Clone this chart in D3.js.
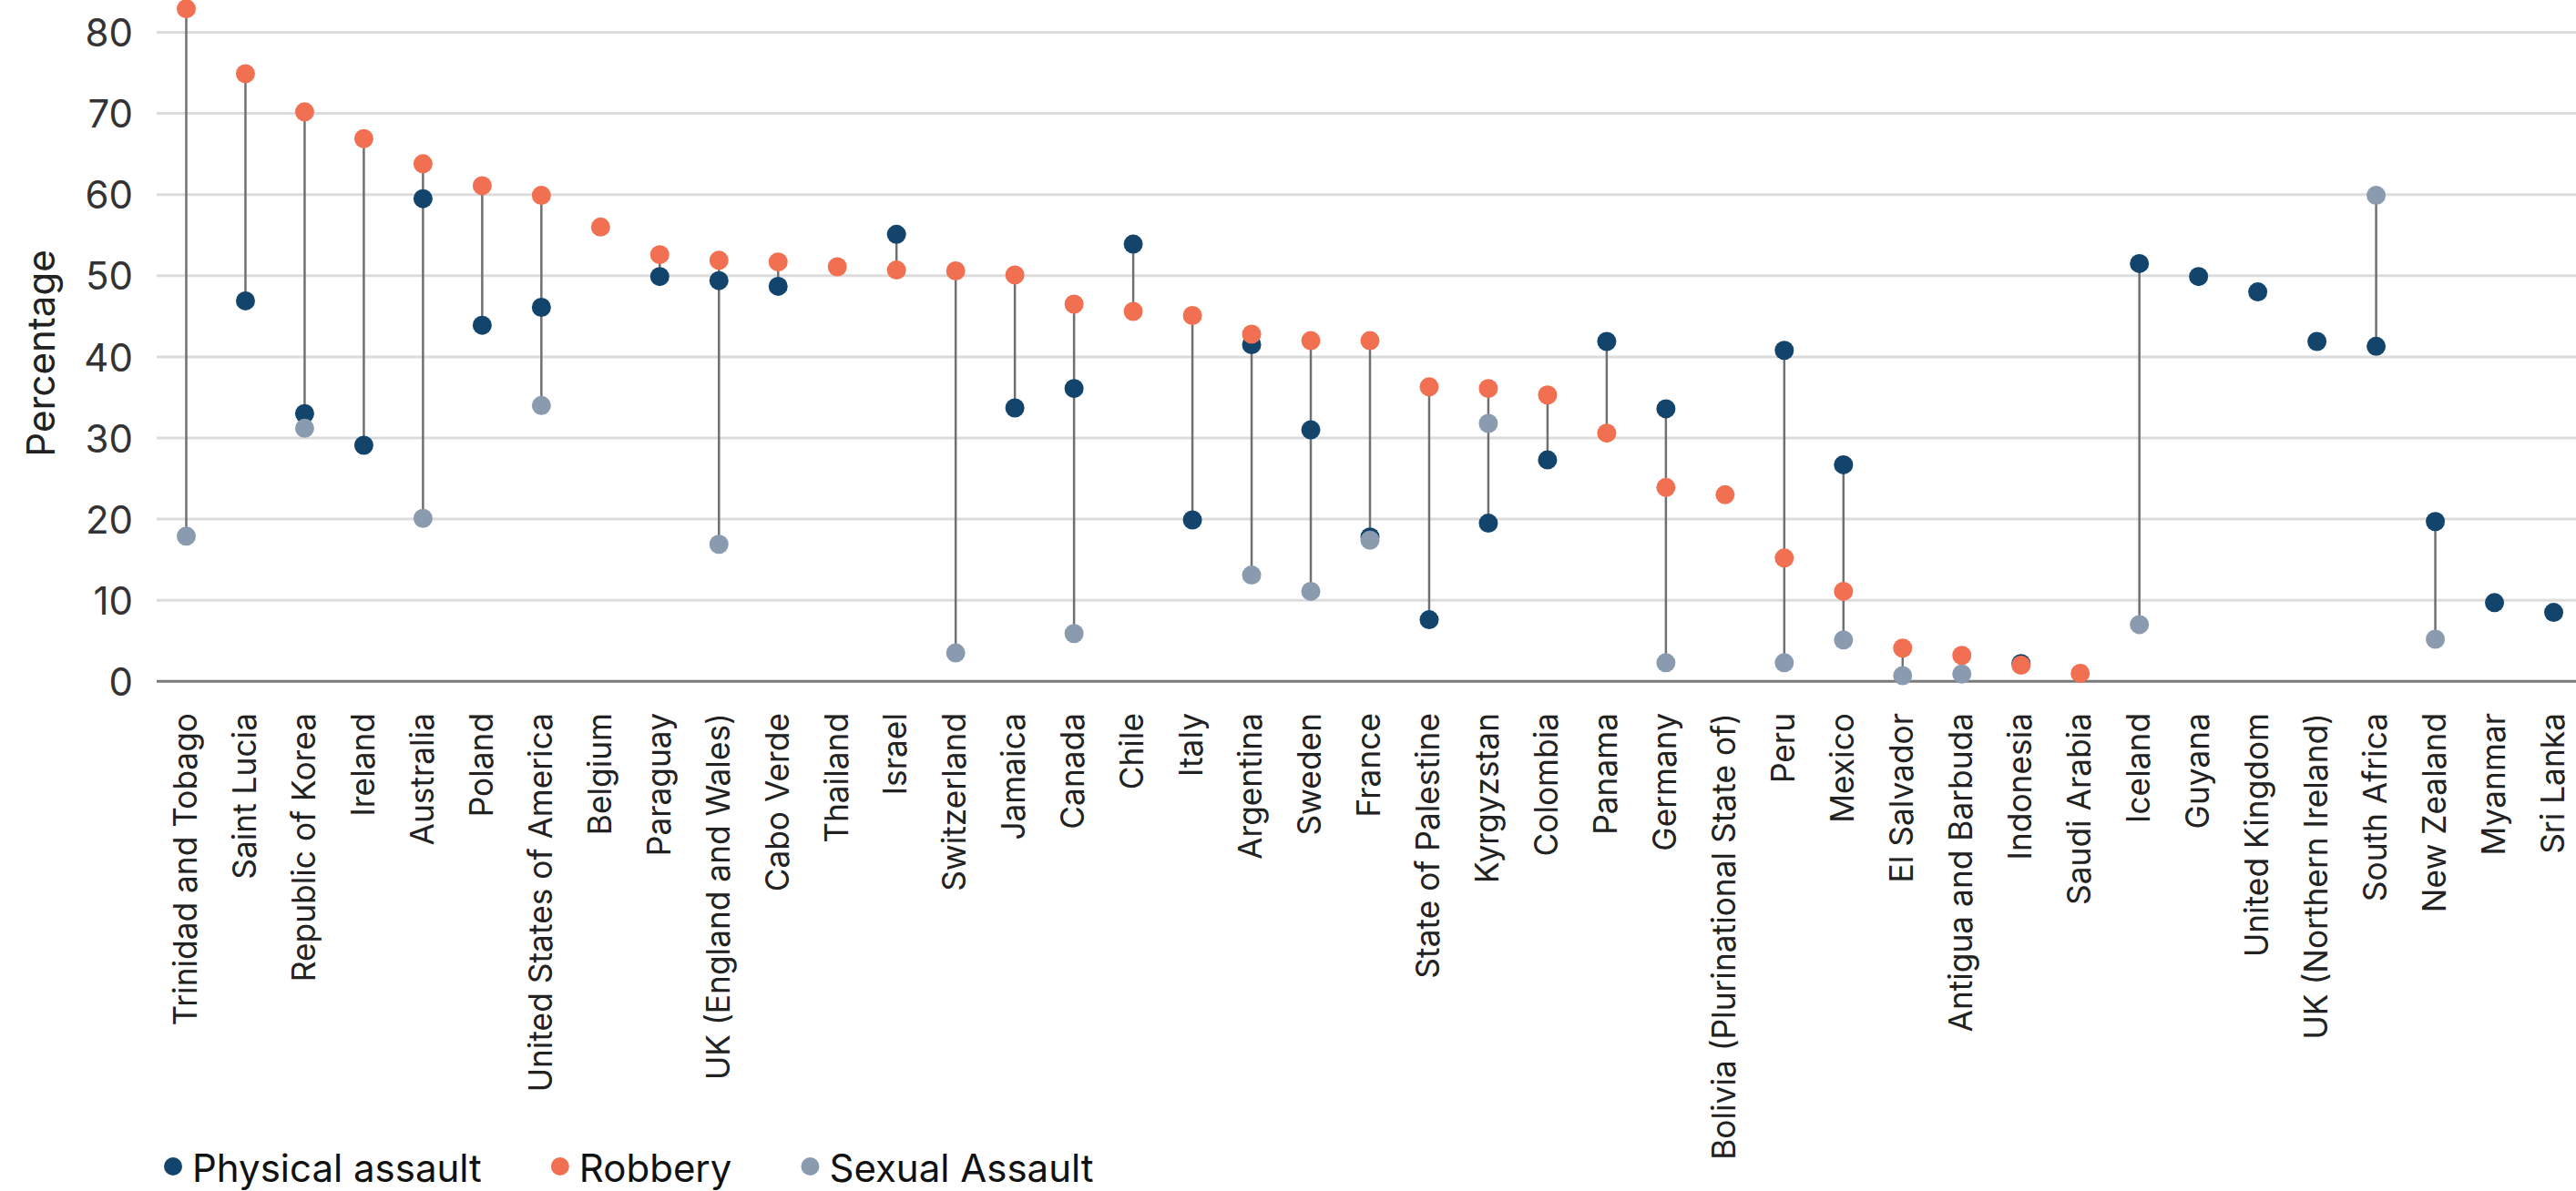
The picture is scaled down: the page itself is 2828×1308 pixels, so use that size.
<!DOCTYPE html>
<html>
<head>
<meta charset="utf-8">
<script src="https://cdn.jsdelivr.net/npm/d3@7"></script>
<style>
  html, body { margin: 0; padding: 0; background: #ffffff; }
  svg { display: block; }
  text { font-family: Inter, "Noto Sans", sans-serif; }
</style>
</head>
<body>
<svg id="chart" width="2828" height="1308"></svg>
<script>
const categories = [
  "Trinidad and Tobago", "Saint Lucia", "Republic of Korea", "Ireland", "Australia",
  "Poland", "United States of America", "Belgium", "Paraguay", "UK (England and Wales)",
  "Cabo Verde", "Thailand", "Israel", "Switzerland", "Jamaica", "Canada", "Chile", "Italy",
  "Argentina", "Sweden", "France", "State of Palestine", "Kyrgyzstan", "Colombia", "Panama",
  "Germany", "Bolivia (Plurinational State of)", "Peru", "Mexico", "El Salvador",
  "Antigua and Barbuda", "Indonesia", "Saudi Arabia", "Iceland", "Guyana", "United Kingdom",
  "UK (Northern Ireland)", "South Africa", "New Zealand", "Myanmar", "Sri Lanka"
];
const physicalAssault = [
  null, 46.9, 33.0, 29.1, 59.5, 43.9, 46.1, null, 49.9, 49.4,
  48.7, null, 55.1, null, 33.7, 36.1, 53.9, 19.9, 41.5, 31.0,
  17.8, 7.6, 19.5, 27.3, 41.9, 33.6, null, 40.8, 26.7, null,
  null, 2.2, null, 51.5, 49.9, 48.0, 41.9, 41.3, 19.7, 9.7, 8.5
];
const robbery = [
  82.9, 74.9, 70.2, 66.9, 63.8, 61.1, 59.9, 56.0, 52.6, 51.9,
  51.7, 51.1, 50.7, 50.6, 50.1, 46.5, 45.6, 45.1, 42.8, 42.0,
  42.0, 36.3, 36.1, 35.3, 30.6, 23.9, 23.0, 15.2, 11.1, 4.1,
  3.2, 2.0, 1.0, null, null, null, null, null, null, null, null
];
const sexualAssault = [
  17.9, null, 31.2, null, 20.1, null, 34.0, null, null, 16.9,
  null, null, null, 3.5, null, 5.9, null, null, 13.1, 11.1,
  17.4, null, 31.8, null, null, 2.3, null, 2.3, 5.1, 0.7,
  0.9, null, null, 7.0, null, null, null, 59.9, 5.2, null, null
];
const yTicks = [0, 10, 20, 30, 40, 50, 60, 70, 80];
const seriesNames = ["Physical assault", "Robbery", "Sexual Assault"];
const seriesColors = ["#13446c", "#f27052", "#8a9bb0"];
const yTitle = "Percentage";

const W = 2828, H = 1308;
const plotLeft = 172, plotRight = 2836, plotTop = 35.5, plotBottom = 748.3;

const svg = d3.select("#chart");

const x = d3.scaleBand().domain(categories).range([plotLeft, plotRight]).padding(0);
const y = d3.scaleLinear().domain([0, 80]).range([plotBottom, plotTop]);
const cx = d => x(d) + x.bandwidth() / 2;

// gridlines
const grid = svg.append("g");
grid.selectAll("line")
  .data(yTicks.filter(t => t !== 0))
  .join("line")
  .attr("x1", plotLeft).attr("x2", W)
  .attr("y1", d => y(d)).attr("y2", d => y(d))
  .attr("stroke", "#dcdcdc").attr("stroke-width", 3);

// y axis
const yAxis = d3.axisLeft(y).tickValues(yTicks).tickSize(0).tickPadding(0);
const yg = svg.append("g").attr("transform", `translate(146,0)`).call(yAxis);
yg.select(".domain").remove();
yg.selectAll("text")
  .attr("x", 0)
  .attr("dy", "0.36em")
  .style("font-family", "Inter, sans-serif")
  .style("font-size", "42px")
  .attr("fill", "#333333");

// baseline
svg.append("line")
  .attr("x1", plotLeft).attr("x2", W)
  .attr("y1", y(0)).attr("y2", y(0))
  .attr("stroke", "#7a7a7a").attr("stroke-width", 3);

// y title
svg.append("text")
  .attr("transform", `translate(60,388) rotate(-90)`)
  .attr("text-anchor", "middle")
  .style("font-size", "42px")
  .attr("fill", "#222222")
  .text(yTitle);

// x labels
const xg = svg.append("g");
xg.selectAll("text")
  .data(categories)
  .join("text")
  .attr("transform", d => `translate(${cx(d)},783) rotate(-90)`)
  .attr("text-anchor", "end")
  .attr("dy", "0.32em")
  .style("font-size", "35.3px")
  .attr("fill", "#222222")
  .text(d => d);

// connectors
const rows = categories.map((c, i) => ({
  c, vals: [physicalAssault[i], robbery[i], sexualAssault[i]]
}));
svg.append("g").selectAll("line")
  .data(rows.filter(r => r.vals.filter(v => v !== null).length > 1))
  .join("line")
  .attr("x1", d => cx(d.c)).attr("x2", d => cx(d.c))
  .attr("y1", d => y(d3.max(d.vals.filter(v => v !== null))))
  .attr("y2", d => y(d3.min(d.vals.filter(v => v !== null))))
  .attr("stroke", "#707070").attr("stroke-width", 2.5);

// dots
const seriesData = [physicalAssault, robbery, sexualAssault];
seriesData.forEach((vals, si) => {
  svg.append("g").selectAll("circle")
    .data(categories.map((c, i) => ({ c, v: vals[i] })).filter(d => d.v !== null))
    .join("circle")
    .attr("cx", d => cx(d.c))
    .attr("cy", d => y(d.v))
    .attr("r", 10.5)
    .attr("fill", seriesColors[si]);
});

// legend
const lg = svg.append("g");
let lx = 180;
seriesNames.forEach((name, i) => {
  lg.append("circle").attr("cx", lx + 10).attr("cy", 1281).attr("r", 10).attr("fill", seriesColors[i]);
  const t = lg.append("text")
    .attr("x", lx + 31).attr("y", 1298)
    .style("font-size", "42px")
    .attr("fill", "#111111")
    .text(name);
  lx = lx + 31 + t.node().getComputedTextLength() + 76;
});
</script>
</body>
</html>
